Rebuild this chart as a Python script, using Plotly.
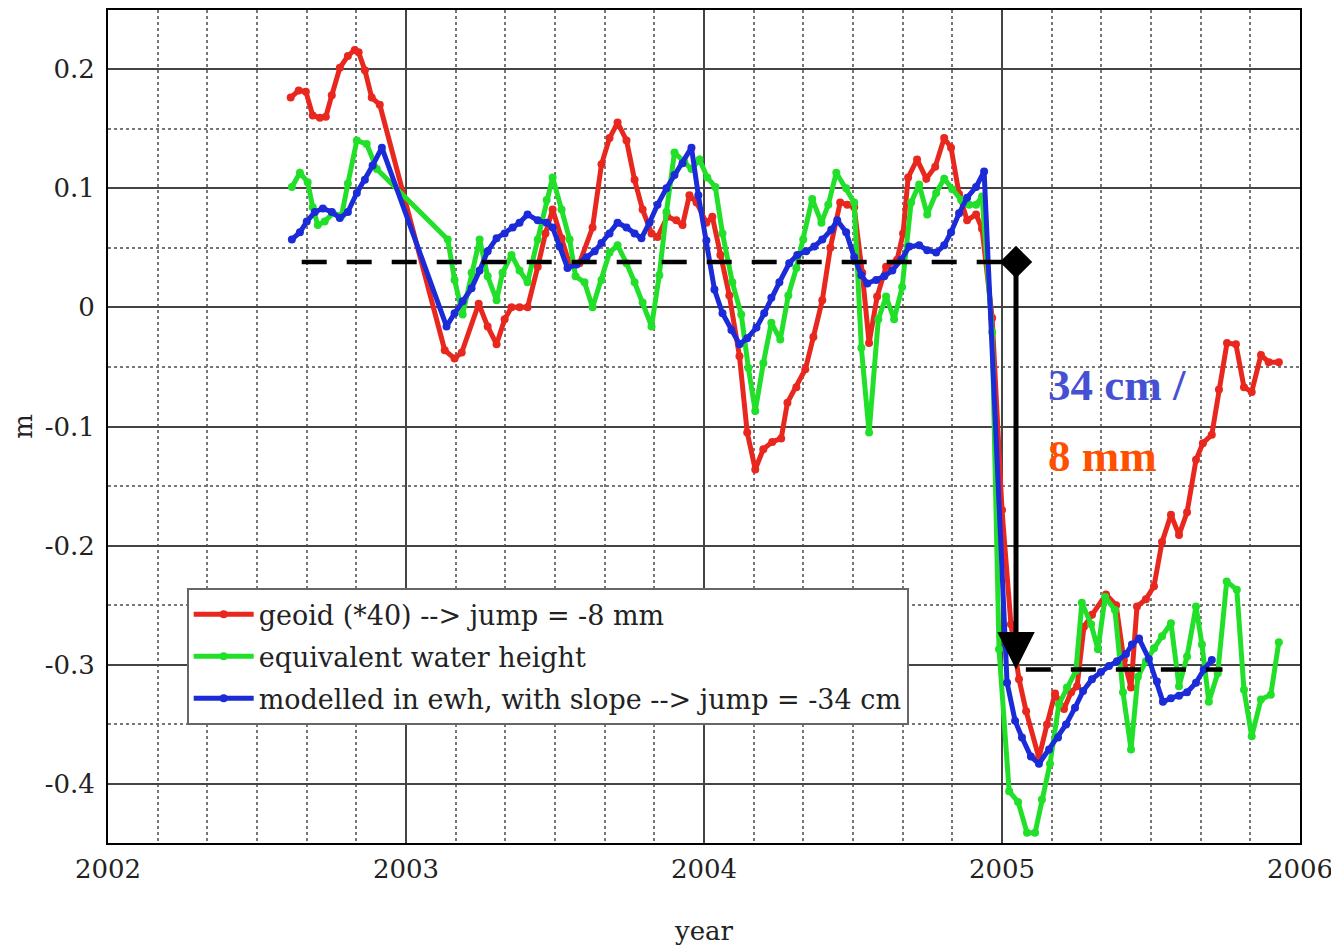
import plotly.graph_objects as go

# ---------------- data (decimal year, metres) ----------------
geoid_pts = [
    (2002.613, 0.176), (2002.640, 0.182), (2002.664, 0.181), (2002.687, 0.161), (2002.711, 0.159),
    (2002.731, 0.160), (2002.751, 0.178), (2002.778, 0.201), (2002.805, 0.211), (2002.828, 0.216),
    (2002.841, 0.214), (2002.862, 0.199), (2002.885, 0.176), (2002.912, 0.170),
    (2003.130, -0.036), (2003.163, -0.043), (2003.187, -0.038), (2003.244, 0.003), (2003.274, -0.016),
    (2003.304, -0.031), (2003.331, -0.010), (2003.354, 0.000), (2003.381, 0.000), (2003.408, 0.000),
    (2003.442, 0.034), (2003.468, 0.062), (2003.492, 0.082), (2003.522, 0.058), (2003.549, 0.036),
    (2003.582, 0.037), (2003.626, 0.067), (2003.656, 0.120), (2003.683, 0.142), (2003.710, 0.155),
    (2003.740, 0.140), (2003.767, 0.107), (2003.794, 0.082), (2003.824, 0.062), (2003.844, 0.059),
    (2003.877, 0.076), (2003.907, 0.073), (2003.928, 0.069), (2003.951, 0.094), (2003.975, 0.088),
    (2004.008, 0.071), (2004.028, 0.076), (2004.055, 0.044), (2004.085, 0.010), (2004.119, -0.041),
    (2004.145, -0.105), (2004.172, -0.136), (2004.199, -0.119), (2004.229, -0.113), (2004.259, -0.110),
    (2004.280, -0.080), (2004.310, -0.067), (2004.340, -0.052), (2004.367, -0.025), (2004.397, 0.006),
    (2004.424, 0.050), (2004.457, 0.088), (2004.481, 0.086), (2004.504, 0.084), (2004.531, 0.029),
    (2004.554, -0.030), (2004.581, 0.009), (2004.611, 0.034), (2004.648, 0.040), (2004.668, 0.062),
    (2004.685, 0.109), (2004.715, 0.124), (2004.746, 0.108), (2004.776, 0.118), (2004.806, 0.142),
    (2004.829, 0.134), (2004.856, 0.095), (2004.883, 0.073), (2004.913, 0.078), (2004.933, 0.066),
    (2004.967, -0.009), (2005.000, -0.170), (2005.030, -0.266), (2005.057, -0.312), (2005.081, -0.339),
    (2005.124, -0.378), (2005.151, -0.350), (2005.178, -0.324), (2005.208, -0.337), (2005.232, -0.323),
    (2005.252, -0.318), (2005.275, -0.268), (2005.302, -0.258), (2005.349, -0.241), (2005.383, -0.250),
    (2005.409, -0.296), (2005.433, -0.319), (2005.453, -0.251), (2005.483, -0.245), (2005.510, -0.234),
    (2005.537, -0.197), (2005.567, -0.174), (2005.594, -0.191), (2005.621, -0.172), (2005.651, -0.128),
    (2005.674, -0.114), (2005.704, -0.107), (2005.728, -0.069), (2005.755, -0.030), (2005.785, -0.031),
    (2005.812, -0.067), (2005.838, -0.071), (2005.869, -0.040), (2005.895, -0.046), (2005.929, -0.046),
]

ewh_pts = [
    (2002.617, 0.101), (2002.644, 0.113), (2002.670, 0.105), (2002.687, 0.084), (2002.704, 0.069),
    (2002.727, 0.072), (2002.754, 0.079), (2002.784, 0.077), (2002.805, 0.104), (2002.835, 0.140),
    (2002.868, 0.137), (2002.902, 0.116),
    (2003.140, 0.057), (2003.163, 0.023), (2003.190, -0.006), (2003.220, 0.029), (2003.247, 0.057),
    (2003.274, 0.026), (2003.304, 0.006), (2003.324, 0.029), (2003.354, 0.044), (2003.381, 0.031),
    (2003.408, 0.021), (2003.442, 0.057), (2003.472, 0.090), (2003.492, 0.109), (2003.522, 0.082),
    (2003.549, 0.057), (2003.569, 0.026), (2003.599, 0.021), (2003.626, 0.000), (2003.656, 0.023),
    (2003.683, 0.046), (2003.710, 0.052), (2003.740, 0.037), (2003.767, 0.021), (2003.794, 0.004),
    (2003.824, -0.016), (2003.850, 0.027), (2003.874, 0.080), (2003.901, 0.130), (2003.934, 0.122),
    (2003.958, 0.116), (2003.985, 0.124), (2004.011, 0.109), (2004.038, 0.101), (2004.062, 0.062),
    (2004.095, 0.021), (2004.125, -0.006), (2004.149, -0.051), (2004.172, -0.087), (2004.199, -0.047),
    (2004.226, -0.013), (2004.256, -0.027), (2004.283, 0.010), (2004.310, 0.033), (2004.333, 0.057),
    (2004.363, 0.091), (2004.394, 0.071), (2004.417, 0.086), (2004.444, 0.113), (2004.477, 0.100),
    (2004.504, 0.088), (2004.528, -0.034), (2004.554, -0.105), (2004.585, -0.010), (2004.611, 0.009),
    (2004.638, -0.010), (2004.665, 0.017), (2004.695, 0.088), (2004.722, 0.103), (2004.749, 0.078),
    (2004.779, 0.096), (2004.806, 0.108), (2004.833, 0.099), (2004.863, 0.090), (2004.890, 0.086),
    (2004.913, 0.086), (2004.933, 0.093), (2004.967, -0.021), (2004.990, -0.287), (2005.024, -0.406),
    (2005.054, -0.415), (2005.084, -0.441), (2005.111, -0.441), (2005.134, -0.413), (2005.161, -0.383),
    (2005.191, -0.333), (2005.218, -0.319), (2005.248, -0.305), (2005.268, -0.248), (2005.299, -0.266),
    (2005.322, -0.287), (2005.346, -0.243), (2005.379, -0.254), (2005.406, -0.323), (2005.433, -0.371),
    (2005.456, -0.310), (2005.483, -0.297), (2005.510, -0.286), (2005.537, -0.276), (2005.567, -0.265),
    (2005.594, -0.318), (2005.621, -0.293), (2005.651, -0.251), (2005.671, -0.283), (2005.694, -0.331),
    (2005.724, -0.307), (2005.754, -0.230), (2005.788, -0.237), (2005.812, -0.321), (2005.838, -0.360),
    (2005.869, -0.329), (2005.902, -0.325), (2005.929, -0.281),
]

model_pts = [
    (2002.617, 0.057), (2002.644, 0.063), (2002.667, 0.072), (2002.694, 0.080), (2002.721, 0.083),
    (2002.751, 0.080), (2002.778, 0.075), (2002.805, 0.080), (2002.835, 0.096), (2002.862, 0.107),
    (2002.888, 0.119), (2002.919, 0.134),
    (2003.136, -0.016), (2003.163, -0.005), (2003.190, 0.005), (2003.220, 0.016), (2003.247, 0.031),
    (2003.274, 0.047), (2003.304, 0.058), (2003.331, 0.062), (2003.358, 0.067), (2003.381, 0.071),
    (2003.408, 0.078), (2003.442, 0.073), (2003.472, 0.071), (2003.492, 0.067), (2003.515, 0.051),
    (2003.542, 0.033), (2003.572, 0.036), (2003.606, 0.042), (2003.633, 0.047), (2003.656, 0.054),
    (2003.683, 0.062), (2003.710, 0.071), (2003.740, 0.067), (2003.767, 0.062), (2003.790, 0.058),
    (2003.817, 0.071), (2003.844, 0.086), (2003.874, 0.100), (2003.901, 0.111), (2003.928, 0.121),
    (2003.958, 0.134), (2003.981, 0.094), (2004.008, 0.056), (2004.035, 0.015), (2004.062, -0.005),
    (2004.092, -0.019), (2004.119, -0.031), (2004.145, -0.026), (2004.176, -0.017), (2004.202, -0.005),
    (2004.226, 0.008), (2004.253, 0.021), (2004.286, 0.037), (2004.313, 0.044), (2004.343, 0.047),
    (2004.370, 0.051), (2004.397, 0.057), (2004.427, 0.065), (2004.447, 0.073), (2004.477, 0.063),
    (2004.504, 0.042), (2004.528, 0.027), (2004.548, 0.020), (2004.578, 0.023), (2004.605, 0.026),
    (2004.632, 0.031), (2004.662, 0.040), (2004.689, 0.051), (2004.722, 0.052), (2004.749, 0.048),
    (2004.779, 0.046), (2004.806, 0.052), (2004.829, 0.063), (2004.856, 0.079), (2004.883, 0.092),
    (2004.913, 0.101), (2004.940, 0.114), (2005.017, -0.315), (2005.044, -0.347), (2005.067, -0.361),
    (2005.097, -0.377), (2005.124, -0.383), (2005.158, -0.371), (2005.188, -0.361), (2005.215, -0.350),
    (2005.245, -0.336), (2005.272, -0.322), (2005.302, -0.312), (2005.332, -0.306), (2005.359, -0.301),
    (2005.386, -0.297), (2005.416, -0.291), (2005.436, -0.283), (2005.460, -0.278), (2005.493, -0.295),
    (2005.520, -0.314), (2005.540, -0.331), (2005.567, -0.328), (2005.594, -0.326), (2005.621, -0.323),
    (2005.651, -0.315), (2005.677, -0.304), (2005.704, -0.296),
]

series_names = [
    "geoid (*40) --> jump = -8 mm",
    "equivalent water height",
    "modelled in ewh, with slope --> jump = -34 cm",
]
series_colors = ["#e8281e", "#22e02a", "#1c2bd8"]

# jump annotation values
level_before = 0.038
level_after = -0.304
dash_before_x = [2002.65, 2005.0]
dash_after_x = [2005.08, 2005.74]
jump_x = 2005.047
jump_text = ["34 cm /", "8 mm"]
jump_text_y = [-0.065, -0.125]
jump_text_x = 2005.148

x_ticks = [2002, 2003, 2004, 2005, 2006]
x_ticktext = ["2002", "2003", "2004", "2005", "2006"]
y_ticks = [0.2, 0.1, 0, -0.1, -0.2, -0.3, -0.4]
y_ticktext = ["0.2", "0.1", "0", "-0.1", "-0.2", "-0.3", "-0.4"]

# ---------------- figure ----------------
fig = go.Figure()

for i, (pts, name, col) in enumerate(zip([geoid_pts, ewh_pts, model_pts], series_names, series_colors)):
    t, v = zip(*pts)
    fig.add_trace(go.Scatter(
        x=list(t), y=list(v), mode="lines+markers", name=name, legendgroup=f"g{i}",
        line=dict(color=col, width=5), marker=dict(color=col, size=8),
    ))

# dashed level lines
fig.add_trace(go.Scatter(
    x=dash_before_x, y=[level_before, level_before], mode="lines", showlegend=False,
    line=dict(color="black", width=4.5, dash="25px,20px"), hoverinfo="skip"))
fig.add_trace(go.Scatter(
    x=dash_after_x, y=[level_after, level_after], mode="lines", showlegend=False,
    line=dict(color="black", width=4.5, dash="25px,20px"), hoverinfo="skip"))

# diamond at top of arrow
fig.add_trace(go.Scatter(
    x=[jump_x], y=[level_before], mode="markers", showlegend=False,
    marker=dict(symbol="diamond", size=25, color="black"), hoverinfo="skip"))

# arrow
fig.add_annotation(
    x=jump_x, y=level_after, ax=jump_x, ay=level_before, xref="x", yref="y",
    axref="x", ayref="y", text="", showarrow=True, arrowhead=2, arrowsize=1.5,
    arrowwidth=5, arrowcolor="black")

fig.add_annotation(x=jump_text_x, y=jump_text_y[0], text=jump_text[0], showarrow=False,
                   xanchor="left", yanchor="middle",
                   font=dict(family="Liberation Serif", size=45, color="#4650d2", weight="bold"))
fig.add_annotation(x=jump_text_x, y=jump_text_y[1], text=jump_text[1], showarrow=False,
                   xanchor="left", yanchor="middle",
                   font=dict(family="Liberation Serif", size=45, color="#ff5000", weight="bold"))

axis_font = dict(family="DejaVu Serif", size=26, color="#222")

fig.update_xaxes(
    range=[2002, 2006], tickvals=x_ticks, ticktext=x_ticktext, tickfont=axis_font,
    showgrid=True, gridcolor="#444", gridwidth=1.5,
    minor=dict(dtick=1/6, tick0=2002, showgrid=True, gridcolor="#777", griddash="dot", gridwidth=1.5),
    showline=True, linecolor="black", linewidth=2, mirror=True, zeroline=False,
    ticks="", ticklabelstandoff=2, automargin=False,
    title=dict(text="year", font=axis_font, standoff=42),
)
fig.update_yaxes(
    range=[-0.4495, 0.2495], tickvals=y_ticks, ticktext=y_ticktext, tickfont=axis_font,
    showgrid=True, gridcolor="#444", gridwidth=1.5,
    minor=dict(dtick=0.05, tick0=0, showgrid=True, gridcolor="#777", griddash="dot", gridwidth=1.5),
    showline=True, linecolor="black", linewidth=2, mirror=True, zeroline=False,
    ticks="", ticklabelstandoff=6, automargin=False,
    title=dict(text="m", font=axis_font, standoff=10),
)

# the page adds an 8px body margin, so the figure is sized to fit inside the window
fig.update_layout(
    width=1331, height=938,
    margin=dict(l=100, r=39, t=2, b=103, autoexpand=False),
    paper_bgcolor="white", plot_bgcolor="white",
    legend=dict(
        x=0.066, y=0.306, xanchor="left", yanchor="top",
        bgcolor="white", bordercolor="#666", borderwidth=2,
        font=dict(family="DejaVu Serif", size=27, color="#222"),
        tracegroupgap=4, itemwidth=60,
    ),
)

fig.write_html("out.html")
